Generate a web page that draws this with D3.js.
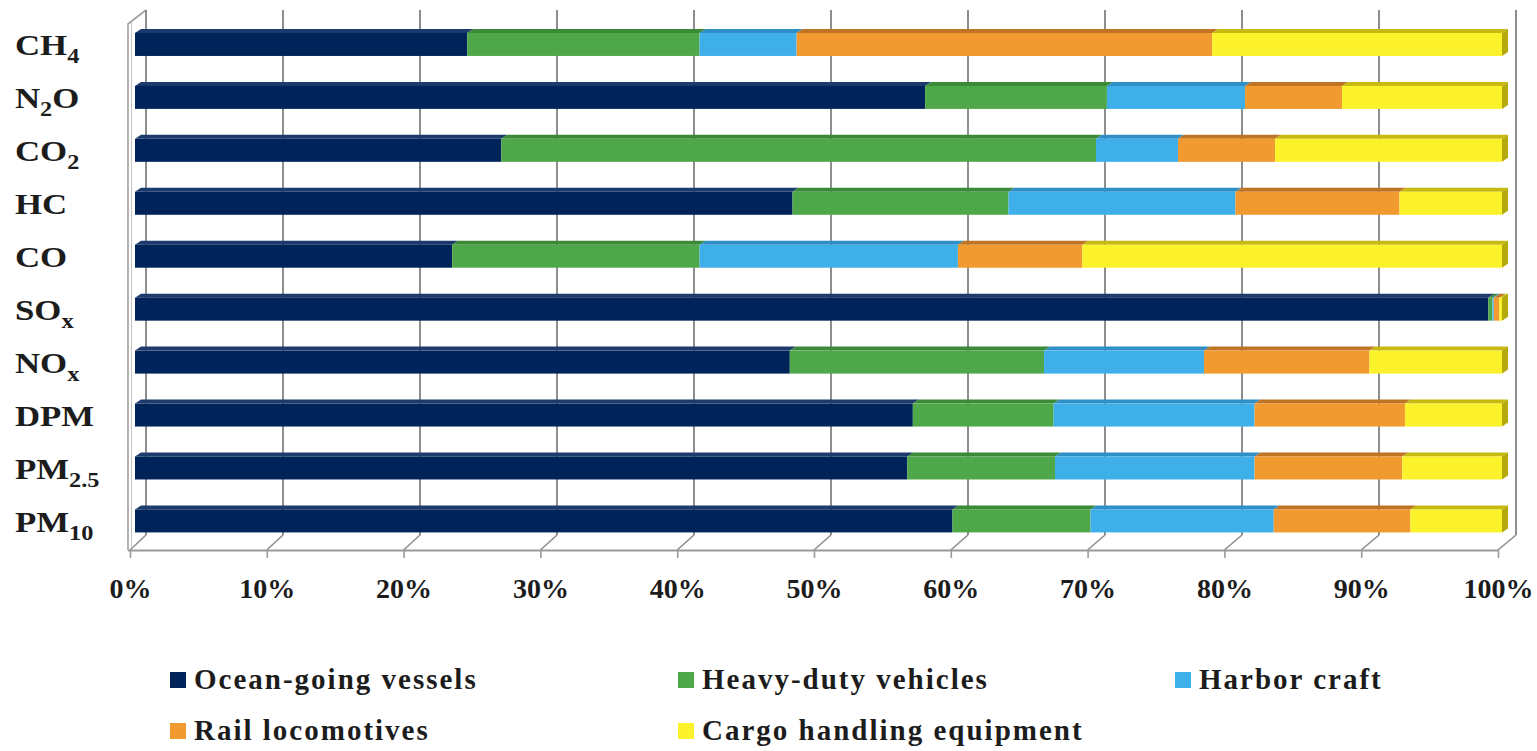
<!DOCTYPE html>
<html>
<head>
<meta charset="utf-8">
<script src="https://cdn.jsdelivr.net/npm/d3@7"></script>
<style>
  html, body { margin: 0; padding: 0; background: #ffffff; }
  svg { display: block; }
  text { font-family: "Liberation Serif", "Times New Roman", serif; font-weight: bold; fill: #1c1c1c; }
</style>
</head>
<body>
<svg id="chart" width="1537" height="751"></svg>
<script>
// Pollutant categories, top to bottom. Each label is split into [text, isSubscript] parts.
const categories = ["CH4", "N2O", "CO2", "HC", "CO", "SOx", "NOx", "DPM", "PM2.5", "PM10"];
const labelParts = [
  [["CH", false], ["4", true]],
  [["N", false], ["2", true], ["O", false]],
  [["CO", false], ["2", true]],
  [["HC", false]],
  [["CO", false]],
  [["SO", false], ["x", true]],
  [["NO", false], ["x", true]],
  [["DPM", false]],
  [["PM", false], ["2.5", true]],
  [["PM", false], ["10", true]]
];

// Share of emissions (%) by source
const seriesNames = ["Ocean-going vessels", "Heavy-duty vehicles", "Harbor craft", "Rail locomotives", "Cargo handling equipment"];
const oceanGoing  = [24.3, 57.8, 26.8, 48.1, 23.2, 99.0, 47.9, 56.9, 56.5, 59.8];
const heavyDuty   = [17.0, 13.3, 43.5, 15.8, 18.1,  0.3, 18.6, 10.3, 10.8, 10.1];
const harborCraft = [ 7.1, 10.1,  6.0, 16.6, 18.9,  0.1, 11.7, 14.7, 14.6, 13.4];
const railLoco    = [30.4,  7.1,  7.1, 12.0,  9.1,  0.4, 12.1, 11.0, 10.8, 10.0];
const cargoEquip  = [21.2, 11.7, 16.6,  7.5, 30.7,  0.2,  9.7,  7.1,  7.3,  6.7];

const xTicks = [0, 0.1, 0.2, 0.3, 0.4, 0.5, 0.6, 0.7, 0.8, 0.9, 1.0];

// Face colours: front, top, side
const frontColors = ["#00245a", "#4ea84a", "#3fafea", "#f19a2f", "#fcf22c"];
const topColors   = ["#1d3a6c", "#3a8a37", "#2e8fc6", "#bf7424", "#c6b90f"];
const sideColors  = ["#001a44", "#357d33", "#2a82b6", "#b06a20", "#b5aa0c"];

const columns = [oceanGoing, heavyDuty, harborCraft, railLoco, cargoEquip];
const rows = categories.map((c, i) => {
  const r = { cat: c };
  seriesNames.forEach((s, j) => { r[s] = columns[j][i]; });
  return r;
});

const svg = d3.select("#chart");

// Front floor edge, bar plane and back wall — the same percentage scale at three depths
const xFront = d3.scaleLinear().domain([0, 1]).range([130, 1498]);
const xBar   = d3.scaleLinear().domain([0, 1]).range([135, 1502]);
const xBack  = d3.scaleLinear().domain([0, 1]).range([146, 1516]);
const floorFrontY = 550, floorBackY = 535, wallTopY = 10;

const y = d3.scaleBand().domain(categories).range([18, 547.4]).paddingInner(0.566).paddingOuter(0.283);

const gridColor = "#8e8e8e";

// Left side wall
svg.append("path")
  .attr("d", `M128,${floorFrontY} V24 L${xBack(0)},${wallTopY}`)
  .attr("fill", "none").attr("stroke", "#a0a0a0").attr("stroke-width", 1.6);
svg.append("path")
  .attr("d", `M131.5,${floorFrontY - 3} V22`)
  .attr("fill", "none").attr("stroke", "#c4c4c4").attr("stroke-width", 1);

// Back wall gridlines
svg.append("g").selectAll("line").data(xTicks).join("line")
  .attr("x1", d => xBack(d)).attr("x2", d => xBack(d))
  .attr("y1", wallTopY).attr("y2", floorBackY)
  .attr("stroke", gridColor).attr("stroke-width", 2);

// Floor: diagonal lines from front edge to back wall
svg.append("g").selectAll("line").data(xTicks).join("line")
  .attr("x1", d => xFront(d)).attr("y1", floorFrontY)
  .attr("x2", d => xBack(d)).attr("y2", floorBackY)
  .attr("stroke", gridColor).attr("stroke-width", 1.6);

// Front floor edge and the x axis below it
const xAxis = d3.axisBottom(xFront).tickValues(xTicks).tickSize(8).tickFormat(d3.format(".0%"));
const axisG = svg.append("g").attr("transform", `translate(0,${floorFrontY})`).call(xAxis);
axisG.select(".domain").attr("stroke", "#9a9a9a").attr("stroke-width", 2).attr("d", `M128,0.5H${xFront(1)}`);
axisG.selectAll(".tick line").attr("stroke", "#9a9a9a").attr("stroke-width", 1.6);
axisG.selectAll(".tick text")
  .attr("y", 48).attr("dy", 0)
  .attr("font-size", 28)
  .attr("font-family", "'Liberation Serif', serif")
  .attr("font-weight", "bold")
  .attr("fill", "#1c1c1c");

// Stacked 3D bars
const stack = d3.stack().keys(seriesNames).offset(d3.stackOffsetExpand);
const stacked = stack(rows);
const dx = 6, dy = 4;
const bw = y.bandwidth();

const barsG = svg.append("g");
categories.forEach((cat, i) => {
  const rowG = barsG.append("g");
  const y0 = y(cat), y1 = y0 + bw;
  stacked.forEach((layer, j) => {
    const seg = layer[i];
    const a = xBar(seg[0]), b = xBar(seg[1]);
    if (b - a <= 0) return;
    rowG.append("polygon")
      .attr("points", `${a},${y0} ${b},${y0} ${b + dx},${y0 - dy} ${a + dx},${y0 - dy}`)
      .attr("fill", topColors[j]);
    rowG.append("rect")
      .attr("x", a).attr("y", y0)
      .attr("width", b - a).attr("height", bw)
      .attr("fill", frontColors[j]);
  });
  // Right-hand end face of the bar
  const lastIdx = stacked.length - 1;
  const end = xBar(stacked[lastIdx][i][1]);
  rowG.append("polygon")
    .attr("points", `${end},${y0} ${end + dx},${y0 - dy} ${end + dx},${y1 - dy} ${end},${y1}`)
    .attr("fill", sideColors[lastIdx]);
});

// Category labels with chemical subscripts
const labG = svg.append("g");
categories.forEach((cat, i) => {
  const cy = y(cat) + bw / 2;
  const g = labG.append("g").attr("transform", `translate(15,${cy + 11}) scale(1.16,1)`);
  const t = g.append("text").attr("x", 0).attr("y", 0).attr("font-size", 30);
  labelParts[i].forEach(([txt, sub], k) => {
    const prevSub = k > 0 && labelParts[i][k - 1][1];
    const ts = t.append("tspan").text(txt);
    if (sub) ts.attr("font-size", 21).attr("dy", 8);
    else if (prevSub) ts.attr("dy", -8);
  });
});

// Legend
const legendItems = [
  { name: seriesNames[0], c: frontColors[0], x: 170, y: 680 },
  { name: seriesNames[1], c: frontColors[1], x: 678, y: 680 },
  { name: seriesNames[2], c: frontColors[2], x: 1175, y: 680 },
  { name: seriesNames[3], c: frontColors[3], x: 170, y: 731 },
  { name: seriesNames[4], c: frontColors[4], x: 678, y: 731 }
];
const legG = svg.append("g");
legendItems.forEach(it => {
  legG.append("rect").attr("x", it.x).attr("y", it.y - 8).attr("width", 16).attr("height", 16).attr("fill", it.c);
  legG.append("text").attr("x", it.x + 24).attr("y", it.y + 9)
    .attr("font-size", 29).attr("letter-spacing", 2).text(it.name);
});
</script>
</body>
</html>
